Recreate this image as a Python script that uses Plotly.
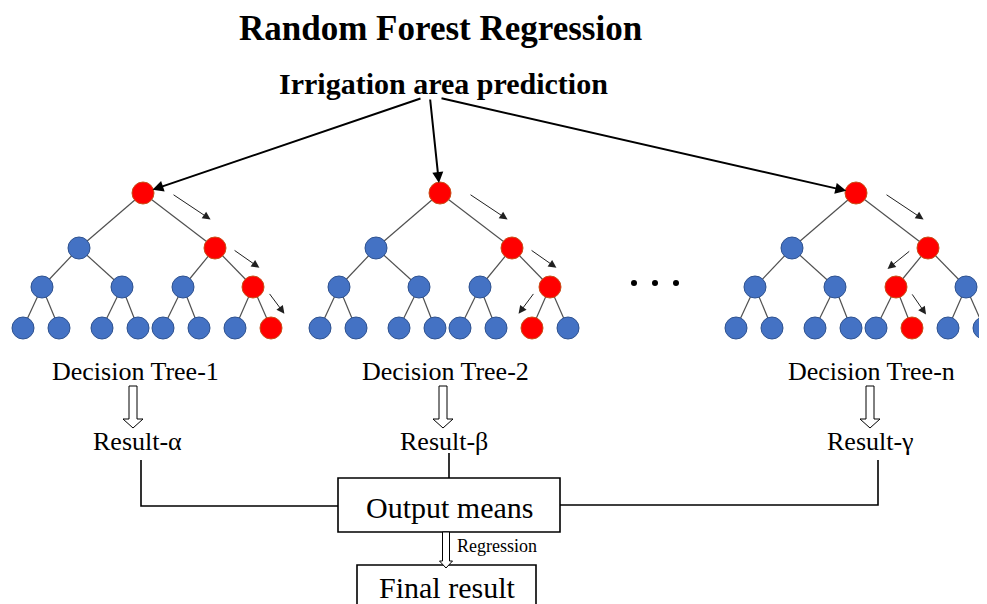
import math
import plotly.graph_objects as go

# ---------------- data ----------------
title_text = "Random Forest Regression"
input_text = "Irrigation area prediction"
tree_labels = ["Decision Tree-1", "Decision Tree-2", "Decision Tree-n"]
result_labels = ["Result-α", "Result-β", "Result-γ"]
output_text = "Output means"
regression_text = "Regression"
final_text = "Final result"

tree_offsets = [0, 297, 713]
level_y = [193, 248, 287, 328]
level_x = [[143], [79, 215], [42, 122, 183, 253],
           [23, 59, 102, 138, 163, 199, 235, 271]]
red_paths = [[0, 1, 3, 7], [0, 1, 3, 6], [0, 1, 2, 5]]
label_x = [135, 445, 871]
result_x = [137, 444, 870]
hollow_x = [133, 443, 870]
connector_x = [141, 449, 878]
input_src_x = [422, 430, 440]
ellipsis_x = [634, 655, 676]

W, H = 987, 604
PAGE_MARGIN = 8  # browser default body margin
SERIF = "Liberation Serif, Times New Roman, serif"
BLUE, BLUE_EDGE = "#4472C4", "#2F528F"
RED, RED_EDGE = "#FF0000", "#C8501A"

fig = go.Figure()
shapes = []
annotations = []


def node_pos(t, lev, i):
    return tree_offsets[t] + level_x[lev][i], level_y[lev]


# tree edges
for t in range(len(tree_offsets)):
    for lev in range(3):
        for i in range(len(level_x[lev])):
            px, py = node_pos(t, lev, i)
            for c in (2 * i, 2 * i + 1):
                cx, cy = node_pos(t, lev + 1, c)
                shapes.append(dict(type="line", x0=px, y0=py, x1=cx, y1=cy,
                                   line=dict(color="#505050", width=1.2), layer="below"))

# nodes
bx, by, rx, ry = [], [], [], []
for t in range(len(tree_offsets)):
    for lev in range(4):
        for i in range(len(level_x[lev])):
            x, y = node_pos(t, lev, i)
            if red_paths[t][lev] == i:
                rx.append(x); ry.append(y)
            else:
                bx.append(x); by.append(y)
fig.add_trace(go.Scatter(x=bx, y=by, mode="markers", hoverinfo="skip", cliponaxis=False,
                         marker=dict(size=22, color=BLUE, line=dict(color=BLUE_EDGE, width=1))))
fig.add_trace(go.Scatter(x=rx, y=ry, mode="markers", hoverinfo="skip", cliponaxis=False,
                         marker=dict(size=22, color=RED, line=dict(color=RED_EDGE, width=1))))
fig.add_trace(go.Scatter(x=ellipsis_x, y=[283] * 3, mode="markers", hoverinfo="skip",
                         marker=dict(size=6, color="black")))

# small path arrows beside red path edges
for t in range(len(tree_offsets)):
    path = red_paths[t]
    for lev in range(3):
        px, py = node_pos(t, lev, path[lev])
        cx, cy = node_pos(t, lev + 1, path[lev + 1])
        dx, dy = cx - px, cy - py
        L = math.hypot(dx, dy)
        ux, uy = dx / L, dy / L
        nx, ny = uy, -ux
        if ny > 0:
            nx, ny = -nx, -ny
        a0, a1 = (0.26 * L, 0.77 * L) if lev == 0 else (0.25 * L, 0.83 * L)
        p0, p1 = (17, 20) if lev == 0 else (12, 18)
        sx, sy = px + ux * a0 + nx * p0, py + uy * a0 + ny * p0
        ex, ey = px + ux * a1 + nx * p1, py + uy * a1 + ny * p1
        annotations.append(dict(x=ex, y=ey, ax=sx, ay=sy, xref="x", yref="y",
                                axref="x", ayref="y", text="", showarrow=True,
                                arrowhead=2, arrowsize=1.6, arrowwidth=1,
                                arrowcolor="#202020"))

# big input arrows
for t in range(len(tree_offsets)):
    x, y = node_pos(t, 0, 0)
    annotations.append(dict(x=x, y=y, ax=input_src_x[t], ay=98, xref="x", yref="y",
                            axref="x", ayref="y", text="", showarrow=True,
                            arrowhead=2, arrowsize=1.1, arrowwidth=2,
                            standoff=10, arrowcolor="black"))


def hollow_arrow(xc, top, head_start, tip, shaft_hw, head_hw):
    return (f"M {xc - shaft_hw},{top} L {xc + shaft_hw},{top} L {xc + shaft_hw},{head_start} "
            f"L {xc + head_hw},{head_start} L {xc},{tip} L {xc - head_hw},{head_start} "
            f"L {xc - shaft_hw},{head_start} Z")


for t in range(3):
    shapes.append(dict(type="path", path=hollow_arrow(hollow_x[t], 386, 419, 428, 4, 10),
                       line=dict(color="black", width=1), fillcolor="white"))
    annotations.append(dict(x=label_x[t], y=371, text=tree_labels[t], showarrow=False,
                            font=dict(family=SERIF, size=26, color="black"),
                            xanchor="center", yanchor="middle"))
    annotations.append(dict(x=result_x[t], y=441, text=result_labels[t], showarrow=False,
                            font=dict(family=SERIF, size=26, color="black"),
                            xanchor="center", yanchor="middle"))

# connectors
LC = dict(color="black", width=1.6)
shapes.append(dict(type="path", path=f"M {connector_x[0]},460 L {connector_x[0]},506 L 338,506",
                   line=LC))
shapes.append(dict(type="line", x0=connector_x[1], y0=453, x1=connector_x[1], y1=478, line=LC))
shapes.append(dict(type="path", path=f"M {connector_x[2]},460 L {connector_x[2]},505 L 560,505",
                   line=LC))

# boxes
shapes.append(dict(type="rect", x0=338, y0=478, x1=560, y1=532, line=LC, fillcolor="white"))
shapes.append(dict(type="rect", x0=357, y0=565, x1=536, y1=620, line=LC, fillcolor="white"))
shapes.append(dict(type="path", path=hollow_arrow(446, 532, 561, 568, 3.5, 6.5),
                   line=dict(color="black", width=1), fillcolor="white"))

annotations += [
    dict(x=440, y=28, text=f"<b>{title_text}</b>", showarrow=False,
         font=dict(family=SERIF, size=35, color="black")),
    dict(x=443, y=83, text=f"<b>{input_text}</b>", showarrow=False,
         font=dict(family=SERIF, size=30, color="black")),
    dict(x=449, y=507, text=output_text, showarrow=False,
         font=dict(family=SERIF, size=30, color="black")),
    dict(x=455, y=546, text=regression_text, showarrow=False, xanchor="left",
         font=dict(family=SERIF, size=18, color="black")),
    dict(x=447, y=587, text=final_text, showarrow=False,
         font=dict(family=SERIF, size=30, color="black")),
]
for a in annotations:
    a.setdefault("xref", "x")
    a.setdefault("yref", "y")

fig.update_layout(
    width=W - PAGE_MARGIN, height=H - PAGE_MARGIN, margin=dict(l=0, r=0, t=0, b=0),
    paper_bgcolor="white", plot_bgcolor="white", showlegend=False,
    xaxis=dict(range=[PAGE_MARGIN, W], visible=False, fixedrange=True),
    yaxis=dict(range=[H, PAGE_MARGIN], visible=False, fixedrange=True),
    shapes=shapes, annotations=annotations,
)
fig.write_html("out.html")
